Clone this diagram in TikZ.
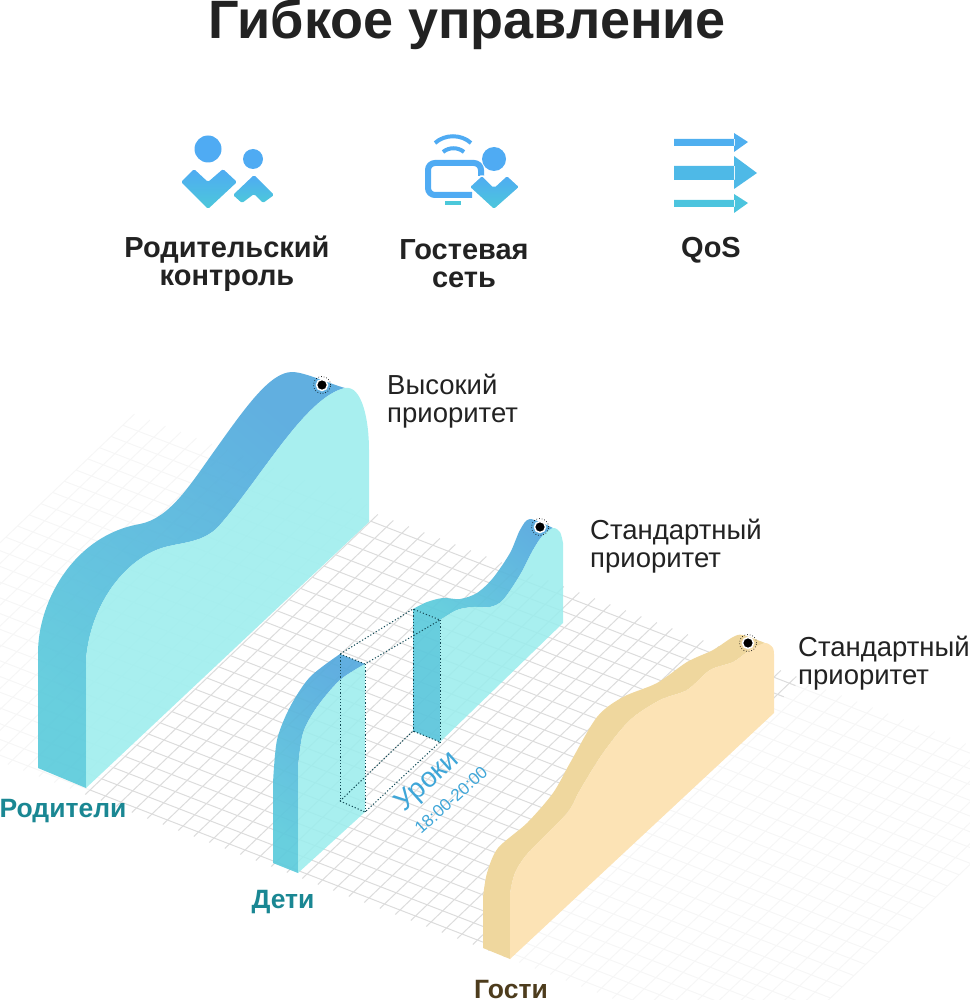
\documentclass[tikz,border=0pt]{standalone}
\usepackage{fontspec}
\setmainfont{Liberation Sans}
\usetikzlibrary{positioning}
\definecolor{gridcol}{HTML}{DCDCDC}
\definecolor{gridfaint}{HTML}{F6F6F6}
\definecolor{facecol}{HTML}{9CEDED}
\definecolor{ribbonlow}{HTML}{60CCDC}
\definecolor{ribbonhigh}{HTML}{58ABDE}
\definecolor{sandface}{HTML}{FCE3B5}
\definecolor{sandtop}{HTML}{EFD79E}
\definecolor{icontop}{HTML}{4FABF3}
\definecolor{iconlow}{HTML}{4CC8DA}
\definecolor{tealtext}{HTML}{1A8793}
\definecolor{browntext}{HTML}{4D3C1D}
\definecolor{bluetext}{HTML}{3FA6D8}
\definecolor{inktext}{HTML}{222222}
\definecolor{dotcol}{HTML}{124A56}
\newcommand{\sized}[2]{\fontsize{#1}{#2}\selectfont}

\begin{document}
\begin{tikzpicture}[x=1pt, y=-1pt,
        gridline/.style = {gridcol, line width=1pt},
        faintline/.style = {gridfaint, line width=1pt},
        face/.style = {fill=facecol, fill opacity=0.88},
        ribbon/.style = {top color=ribbonhigh, bottom color=ribbonlow, shading angle=-40, fill opacity=0.95},
        icon/.style = {top color=icontop, bottom color=iconlow, rounded corners=1.5pt},
        edge/.style = {dotcol, line width=1pt, dash pattern=on 1.2pt off 2pt},
        head/.style = {circle, fill=icontop, inner sep=0pt},
        mainlabel/.style = {font=\bfseries\sized{29}{28}, align=center, inktext},
        sidelabel/.style = {font=\sized{27.5}{28}, align=left, anchor=west, inner sep=0pt, inktext},
        owner/.style = {font=\bfseries\sized{26.5}{28}, tealtext},
        ringdot/.style = {circle, fill=black, draw=white, line width=1.5pt, minimum size=11pt, inner sep=0pt}]
    \useasboundingbox (0,0) rectangle (969,1000);

    \node[inktext, font=\bfseries\sized{54}{60}] (title) at (467,24) {Гибкое управление};

    % icons
    \node[head, minimum size=27pt] (bighead) at (208,149) {};
    \node[head, minimum size=20pt] (smallhead) at (253,159) {};
    \shade[icon] (181,182) -- (194,169) -- (208,182) -- (223,169) -- (237,182) -- (208,209) -- cycle;
    \shade[icon] (254,175) -- (274,195) -- (263,203) -- (254,194) -- (242,203) -- (233,195) -- cycle;
    \draw[icontop, line width=4pt] (435,143) .. controls (445,134) and (461,134) .. (471,143);
    \draw[icontop, line width=4pt] (443,152) .. controls (449,147) and (458,147) .. (464,152);
    \draw[icontop, line width=6pt, rounded corners=7pt] (481,176) -- (481,163) -- (428,163) -- (428,195) -- (472,195);
    \fill[iconlow] (445,201) rectangle (461,205);
    \node[head, minimum size=24pt] (wifihead) at (494,159) {};
    \shade[icon, draw=white, line width=1.5pt] (469,187) -- (482,175) -- (494,187) -- (507,175) -- (520,187) -- (494,210) -- cycle;
    \fill[icontop!85!iconlow] (674,139) rectangle (735,146) (734,133) -- (748,142) -- (734,152) -- cycle;
    \fill[icontop!50!iconlow] (674,166) rectangle (735,180) (734,156) -- (757,173) -- (734,189) -- cycle;
    \fill[iconlow!85!icontop] (674,200) rectangle (735,207) (734,194) -- (748,203) -- (734,213) -- cycle;

    \node[mainlabel] (parental) at (227,264) {Родительский\\контроль};
    \node[mainlabel] (guestnet) at (464,264) {Гостевая\\сеть};
    \node[mainlabel] (qos) at (711,250) {QoS};

    % floor grid
    \begin{scope}[shift={(90,790)}, x={(15.5pt,-6pt)}, y={(11.7pt,11.2pt)}]
        \foreach \i in {-16,...,-1}
            \draw[faintline] (\i,-0.4) -- (\i,25);
        \foreach \i in {28,...,44}
            \draw[faintline] (\i,-0.4) -- (\i,24.5);
        \foreach \j in {0,...,24} {
            \draw[faintline] (-16,\j) -- (0,\j);
            \draw[faintline] (27,\j) -- (44,\j);
            \draw[gridline] (0,\j) -- (27.4,\j);
        }
        \foreach \i in {0,...,27}
            \draw[gridline] (\i,-0.4) -- (\i,24.6);
    \end{scope}

    % parents
    \shade[ribbon] (38,768) -- (38,653) .. controls (38,600) and (75,535) .. (140,524)
        .. controls (170,518) and (190,485) .. (215,450)
        .. controls (245,408) and (270,372) .. (292,372)
        .. controls (305,372) and (330,384) .. (345,388)
        .. controls (305,397) and (260,480) .. (218,527)
        .. controls (203,542) and (185,542) .. (165,547)
        .. controls (125,558) and (90,605) .. (86,660)
        -- (86,788) -- cycle;
    \fill[face] (86,660) .. controls (90,605) and (125,558) .. (165,547)
        .. controls (185,542) and (203,542) .. (218,527)
        .. controls (260,480) and (305,397) .. (345,388)
        .. controls (362,385) and (369,420) .. (369,450)
        -- (369,522) -- (86,788) -- cycle;

    % children, before the lesson
    \shade[ribbon] (273,863) -- plot[smooth] coordinates {(273,783) (277,740) (290,707) (310,677) (340,654)}
        -- (365,664) -- plot[smooth] coordinates {(365,664) (340,680) (317,707) (303,733) (298,767)}
        -- (298,873) -- cycle;
    \fill[face] plot[smooth] coordinates {(298,767) (303,733) (317,707) (340,680) (365,664)}
        -- (365,812) -- (298,873) -- cycle;

    % children, after the lesson
    \shade[top color=ribbonlow, bottom color=ribbonlow!80!ribbonhigh, fill opacity=0.95] (413,609) -- (440,620) -- (440,742) -- (413,731) -- cycle;
    \shade[ribbon] plot[smooth] coordinates {(413,609) (427,602) (443,598) (460,599) (477,593) (493,578) (510,553) (520,530) (530,519) (553,528)}
        -- plot[smooth] coordinates {(553,528) (543,535) (533,550) (520,575) (503,600) (490,607) (473,607) (457,610) (440,620)} -- cycle;
    \fill[face] plot[smooth] coordinates {(440,620) (457,610) (473,607) (490,607) (503,600) (520,575) (533,550) (543,535) (553,528) (560,532) (563,543)}
        -- (563,623) -- (440,742) -- cycle;

    % lesson box
    \coordinate (lefttop) at (340,654);
    \coordinate (frontlefttop) at (365,664);
    \coordinate (righttop) at (413,609);
    \coordinate (frontrighttop) at (440,620);
    \coordinate (leftlow) at (340,801);
    \coordinate (frontleftlow) at (365,812);
    \coordinate (rightlow) at (413,731);
    \coordinate (frontrightlow) at (440,742);
    \draw[edge] (lefttop) -- (frontlefttop) -- (frontrighttop) -- (righttop) -- cycle;
    \draw[edge] (leftlow) -- (frontleftlow) -- (frontrightlow) -- (rightlow) -- cycle;
    \foreach \corner in {left, frontleft, right, frontright}
        \draw[edge] (\corner top) -- (\corner low);

    % guests
    \fill[sandtop] plot[smooth] coordinates {(483,897) (487,873) (498,848) (527,823) (553,793) (570,763) (597,717) (623,697) (657,683) (687,662) (713,650) (733,637) (743,635) (765,643)}
        -- plot[smooth] coordinates {(765,643) (750,650) (733,662) (710,670) (687,690) (660,700) (630,720) (603,753) (580,790) (567,813) (528,853) (515,873) (510,893)}
        -- (510,959) -- (483,948) -- cycle;
    \fill[sandface] plot[smooth] coordinates {(510,893) (515,873) (528,853) (567,813) (580,790) (603,753) (630,720) (660,700) (687,690) (710,670) (733,662) (750,650) (765,643) (773,648) (774,657)}
        -- (774,713) -- (510,959) -- cycle;

    % priority marks
    \foreach \name/\where in {highmark/{(322,385)}, kidsmark/{(540,527)}, guestmark/{(748,643)}} {
        \node[ringdot] (\name) at \where {};
        \draw[black, dotted, line width=0.7pt] (\name) circle (8.5pt);
    }

    \node[sidelabel] (hightext) at (387,401) {Высокий\\приоритет};
    \node[sidelabel] (kidstext) at (590,546) {Стандартный\\приоритет};
    \node[sidelabel] (guesttext) at (798,663) {Стандартный\\приоритет};

    \node[bluetext, rotate=42, font=\sized{28}{32}] (lesson) at (428,782) {Уроки};
    \node[bluetext, rotate=42, font=\sized{17}{20}] (lessontime) at (451,800) {18:00-20:00};

    \node[owner] (parents) at (63,811) {Родители};
    \node[owner] (kids) at (283,902) {Дети};
    \node[owner, browntext] (guests) at (511,990) {Гости};
\end{tikzpicture}
\end{document}
